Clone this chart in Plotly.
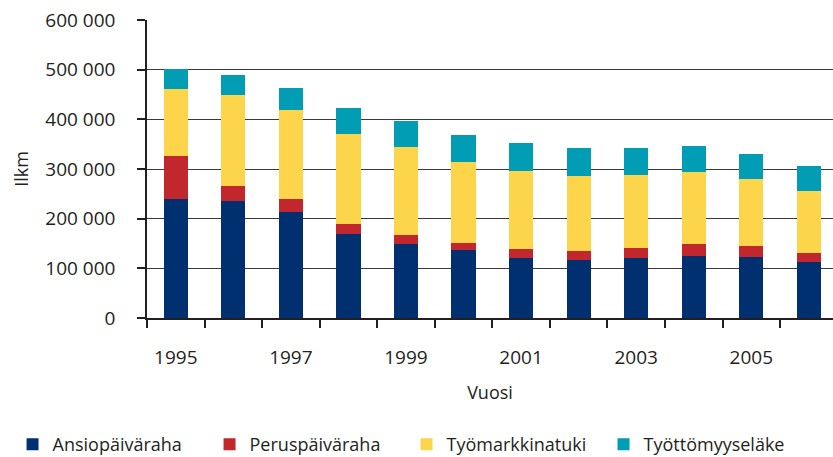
import plotly.graph_objects as go

years = [1995, 1996, 1997, 1998, 1999, 2000, 2001, 2002, 2003, 2004, 2005, 2006]
ansiopaivaraha = [240000, 236000, 214000, 170000, 150000, 136000, 121000, 117000, 121000, 125500, 123500, 113000]
peruspaivaraha = [87000, 30500, 26000, 20000, 18000, 16000, 17000, 17000, 19000, 22500, 20500, 18600]
tyomarkkinatuki = [135000, 181500, 178000, 181000, 177000, 163000, 157000, 151000, 147000, 145000, 135000, 125000]
tyottomyyselake = [40000, 42000, 46000, 51000, 52500, 54000, 58000, 58000, 56000, 54000, 52000, 48500]

series_names = ["Ansiopäiväraha", "Peruspäiväraha", "Työmarkkinatuki", "Työttömyyseläke"]
series_values = [ansiopaivaraha, peruspaivaraha, tyomarkkinatuki, tyottomyyselake]
series_colors = ["#00306F", "#C1272D", "#FDD54B", "#009DB4"]

x_tick_years = [1995, 1997, 1999, 2001, 2003, 2005]
y_tick_vals = [0, 100000, 200000, 300000, 400000, 500000, 600000]
y_tick_text = ["0", "100 000", "200 000", "300 000", "400 000", "500 000", "600 000"]

FONT = "'Open Sans', Lato, sans-serif"
INK = "#231F20"

fig = go.Figure()
for name, vals, col in zip(series_names, series_values, series_colors):
    fig.add_trace(go.Bar(x=years, y=vals, name=name, marker=dict(color=col, line=dict(width=0))))

fig.update_layout(
    barmode="stack",
    bargap=0.58,
    width=833, height=457,
    margin=dict(l=147, r=0, t=20, b=139, autoexpand=False),
    plot_bgcolor="white", paper_bgcolor="white",
    font=dict(family=FONT, size=18, color=INK),
    legend=dict(
        orientation="h",
        x=-0.196, y=-0.4245, xanchor="left", yanchor="middle",
        font=dict(size=18), itemwidth=30, entrywidth=152,
        traceorder="normal",
    ),
    xaxis=dict(
        range=[1994.5, 2006.42],
        tickmode="array", tickvals=x_tick_years, ticktext=[str(y) for y in x_tick_years],
        ticks="", ticklabelstandoff=21, tickfont=dict(size=19),
        showline=True, linecolor=INK, linewidth=1.5,
        showgrid=False, zeroline=False, automargin=False,
        minor=dict(ticks="outside", tick0=1994.5, dtick=1, ticklen=8, tickcolor=INK, tickwidth=1.5, showgrid=False),
        title=dict(text="Vuosi", standoff=18, font=dict(size=18)),
    ),
    yaxis=dict(
        range=[0, 600000],
        tickmode="array", tickvals=y_tick_vals, ticktext=y_tick_text,
        ticks="outside", ticklen=8, tickcolor=INK, tickwidth=1.5,
        ticklabelstandoff=18, tickfont=dict(size=19),
        showline=True, linecolor=INK, linewidth=1.5,
        showgrid=True, gridcolor="#3A3A3A", gridwidth=1.2,
        zeroline=False, automargin=False,
        title=dict(text="Ilkm", standoff=12, font=dict(size=18)),
    ),
)

fig.write_html(
    "out.html",
    config={"displayModeBar": False},
    post_script="document.body.style.margin='0';document.body.style.padding='0';document.body.style.overflow='hidden';",
)
